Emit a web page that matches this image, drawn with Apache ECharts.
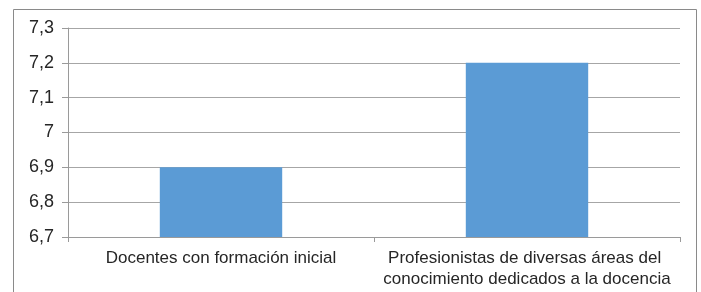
<!DOCTYPE html>
<html>
<head>
<meta charset="utf-8">
<script src="https://cdn.jsdelivr.net/npm/echarts@6/dist/echarts.min.js"></script>
<style>html,body{margin:0;padding:0;background:#fff}#c{width:701px;height:292px}</style>
</head>
<body>
<div id="c"></div>
<script>
const categories = ['Docentes con formación inicial', 'Profesionistas de diversas áreas del conocimiento dedicados a la docencia'];
const values = [6.9, 7.2];
const yTicks = { min: 6.7, max: 7.3, interval: 0.1 };

const chart = echarts.init(document.getElementById('c'));
chart.setOption({
  animation: false,
  grid: { left: 68, right: 21, top: 28, bottom: 55, containLabel: false },
  graphic: [{
    type: 'rect', shape: { x: 13.5, y: 9.5, width: 683, height: 300 },
    style: { fill: 'none', stroke: '#8a8a8a', lineWidth: 1 }, silent: true
  }],
  xAxis: {
    type: 'category', data: categories,
    axisLine: { lineStyle: { color: '#9a9a9a', width: 1 } },
    axisTick: { show: true, length: 5, lineStyle: { color: '#9a9a9a' } },
    axisLabel: { color: '#262626', fontFamily: 'Liberation Sans, Arial', fontSize: 17, margin: 11, width: 300, overflow: 'break', lineHeight: 21, interval: 0 }
  },
  yAxis: {
    type: 'value', min: yTicks.min, max: yTicks.max, interval: yTicks.interval,
    axisLine: { show: true, lineStyle: { color: '#9a9a9a', width: 1 } },
    axisTick: { show: true, length: 6, lineStyle: { color: '#9a9a9a' } },
    splitLine: { lineStyle: { color: '#a6a6a6', width: 1 } },
    axisLabel: { color: '#262626', fontFamily: 'Liberation Sans, Arial', fontSize: 18, margin: 14,
      formatter: v => String(Math.round(v * 10) / 10).replace('.', ',') }
  },
  series: [{
    type: 'bar', data: values, barWidth: '40%',
    itemStyle: { color: '#5b9bd5' }
  }]
});
</script>
</body>
</html>
